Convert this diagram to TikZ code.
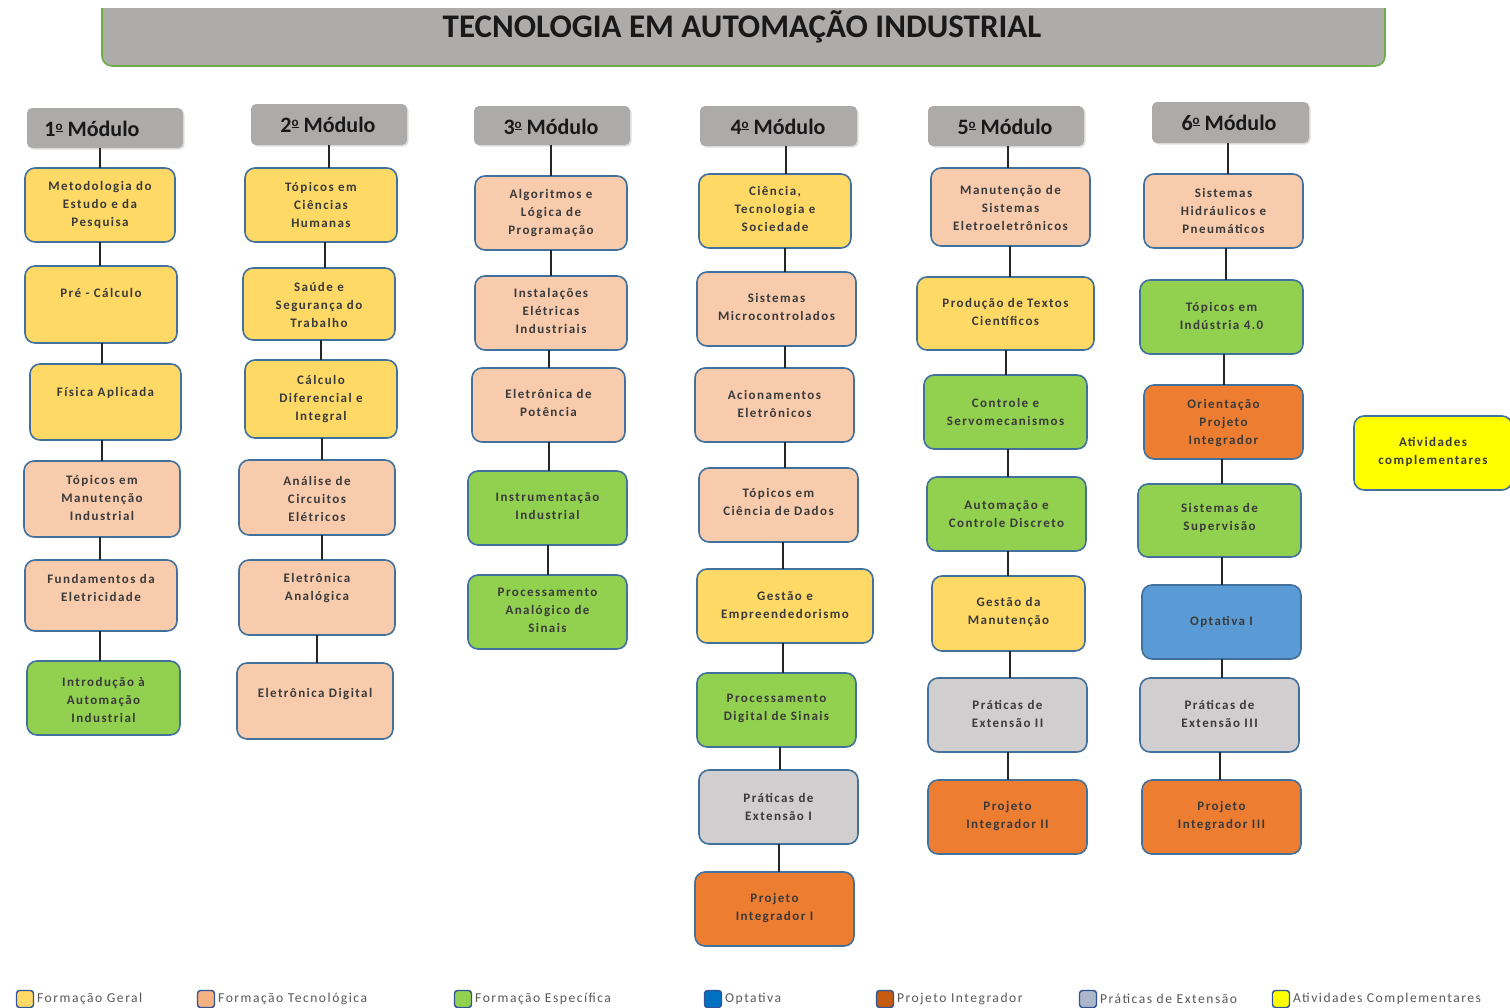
\documentclass[tikz,border=0pt]{standalone}
\usepackage{fontspec}
\setmainfont{Carlito}
\newfontfamily\spaced[LetterSpace=11]{Carlito}
\usetikzlibrary{shadows}
\definecolor{cgen}{HTML}{FFD966}
\definecolor{ctec}{HTML}{F8CBAD}
\definecolor{cesp}{HTML}{92D050}
\definecolor{cpi}{HTML}{ED7D31}
\definecolor{cext}{HTML}{D0CECE}
\definecolor{copt}{HTML}{5B9BD5}
\definecolor{cati}{HTML}{FFFF00}
\definecolor{bord}{HTML}{41719C}
\definecolor{hdrgray}{HTML}{ADAAAA}
\definecolor{titgray}{HTML}{AEABAB}
\definecolor{titbord}{HTML}{70AD47}
\definecolor{txtc}{HTML}{3A3A3A}
\definecolor{legtxt}{HTML}{595959}
\definecolor{legbord}{HTML}{2F5597}
\definecolor{lgtec}{HTML}{F4B183}
\definecolor{lgopt}{HTML}{0070C0}
\definecolor{lgpi}{HTML}{C55A11}
\definecolor{lgext}{HTML}{ADB9CA}
\tikzset{
  cbox/.style={draw=bord, line width=1.6pt, rounded corners=10pt, inner sep=0pt, outer sep=0pt},
  gen/.style={cbox, fill=cgen},
  tec/.style={cbox, fill=ctec},
  esp/.style={cbox, fill=cesp},
  pint/.style={cbox, fill=cpi},
  ext/.style={cbox, fill=cext},
  opt/.style={cbox, fill=copt},
  ati/.style={cbox, fill=cati},
  txt/.style={align=center, font=\spaced\fontsize{13}{18}\selectfont\bfseries, text=txtc, inner sep=0pt},
  conn/.style={draw=black!85, line width=1.5pt},
  hdr/.style={fill=hdrgray, rounded corners=5pt, inner sep=0pt, outer sep=0pt,
    drop shadow={opacity=0.25, shadow xshift=1.5pt, shadow yshift=-1.5pt}},
  hdrtxt/.style={font=\fontsize{22}{26}\selectfont\bfseries, text=black!90, inner sep=0pt},
  legsq/.style={draw=legbord, line width=1.4pt, rounded corners=3pt, inner sep=0pt, minimum width=17pt, minimum height=17pt},
  legtx/.style={anchor=west, font=\spaced\fontsize{13.6}{15}\selectfont, text=legtxt, inner sep=0pt},
}
\newcommand\ordu{\raisebox{0.62ex}{\underline{\fontsize{13}{13}\selectfont\bfseries o}}}
% name, style, x1, y1, x2, y2, text y, text
\newcommand\cbx[8]{%
  \node[#2, minimum width={(#5-#3)*1pt}, minimum height={(#6-#4)*1pt}] (#1) at ({(#3+#5)/2},{(#4+#6)/2}) {};
  \node[txt] (#1t) at ({(#3+#5)/2},#7) {#8};}
% name, x1, y1, x2, y2, tx, ty, text
\newcommand\hdrbox[8]{%
  \node[hdr, minimum width={(#4-#2)*1pt}, minimum height={(#5-#3)*1pt}] (#1) at ({(#2+#4)/2},{(#3+#5)/2}) {};
  \node[hdrtxt] (#1t) at (#6,#7) {#8};}
% name, x, fill, text
\newcommand\legitem[4]{%
  \node[legsq, fill=#3] (#1) at (#2+9,999) {};
  \node[legtx] (#1t) at (#2+21,999) {#4};}
\begin{document}
\begin{tikzpicture}[x=1pt,y=-1pt]
\useasboundingbox (0,0) rectangle (1510,1007);
\clip (0,0) rectangle (1510,1007);
\fill[white] (0,0) rectangle (1510,1007);
% title
\begin{scope}
\clip (0,8) rectangle (1510,100);
\node[draw=titbord, line width=1.6pt, fill=titgray, rounded corners=10pt, minimum width=1283pt, minimum height=86pt, inner sep=0pt] (title) at (743.5,23) {};
\end{scope}
\node[font=\fontsize{33}{36}\selectfont\bfseries, text=black!90, inner sep=0pt] (titlet) at (742,27) {TECNOLOGIA EM AUTOMAÇÃO INDUSTRIAL};
% headers
\hdrbox{h1}{27}{108}{183}{148}{92}{129}{1\ordu\ Módulo}
\hdrbox{h2}{251}{104}{407}{145}{328}{125}{2\ordu\ Módulo}
\hdrbox{h3}{474}{106}{630}{145}{551}{127}{3\ordu\ Módulo}
\hdrbox{h4}{700}{106}{857}{146}{778}{127}{4\ordu\ Módulo}
\hdrbox{h5}{928}{106}{1084}{146}{1005}{127}{5\ordu\ Módulo}
\hdrbox{h6}{1152}{102}{1309}{143}{1229}{123}{6\ordu\ Módulo}
% column 1
\cbx{a1}{gen}{25}{168}{175}{242}{205}{Metodologia do\\Estudo e da\\Pesquisa}
\cbx{b1}{gen}{25}{266}{177}{343}{293}{Pré - Cálculo}
\cbx{c1}{gen}{30}{364}{181}{440}{393}{Física Aplicada}
\cbx{d1}{tec}{24}{461}{180}{537}{498}{Tópicos em\\Manutenção\\Industrial}
\cbx{e1}{tec}{25}{560}{177}{631}{588}{Fundamentos da\\Eletricidade}
\cbx{f1}{esp}{27}{661}{180}{735}{700}{Introdução à\\Automação\\Industrial}
% column 2
\cbx{a2}{gen}{245}{168}{397}{242}{205}{Tópicos em\\Ciências\\Humanas}
\cbx{b2}{gen}{243}{268}{395}{340}{305}{Saúde e\\Segurança do\\Trabalho}
\cbx{c2}{gen}{245}{360}{397}{438}{399}{Cálculo\\Diferencial e\\Integral}
\cbx{d2}{tec}{239}{460}{395}{535}{499}{Análise de\\Circuitos\\Elétricos}
\cbx{e2}{tec}{239}{560}{395}{635}{588}{Eletrônica\\Analógica}
\cbx{f2}{tec}{237}{663}{393}{739}{694}{Eletrônica Digital}
% column 3
\cbx{a3}{tec}{475}{176}{627}{250}{213}{Algoritmos e\\Lógica de\\Programação}
\cbx{b3}{tec}{475}{276}{627}{350}{311}{Instalações\\Elétricas\\Industriais}
\cbx{c3}{tec}{472}{368}{625}{442}{403}{Eletrônica de\\Potência}
\cbx{d3}{esp}{468}{471}{627}{545}{506}{Instrumentação\\Industrial}
\cbx{e3}{esp}{468}{575}{627}{649}{610}{Processamento\\Analógico de\\Sinais}
% column 4
\cbx{a4}{gen}{699}{174}{851}{248}{209}{Ciência,\\Tecnologia e\\Sociedade}
\cbx{b4}{tec}{697}{272}{856}{346}{307}{Sistemas\\Microcontrolados}
\cbx{c4}{tec}{695}{368}{854}{442}{404}{Acionamentos\\Eletrônicos}
\cbx{d4}{tec}{699}{468}{858}{542}{502}{Tópicos em\\Ciência de Dados}
\cbx{e4}{gen}{697}{569}{873}{643}{606}{Gestão e\\Empreendedorismo}
\cbx{f4}{esp}{697}{673}{856}{747}{708}{Processamento\\Digital de Sinais}
\cbx{g4}{ext}{699}{770}{858}{844}{807}{Práticas de\\Extensão I}
\cbx{p4}{pint}{695}{872}{854}{946}{908}{Projeto\\Integrador I}
% column 5
\cbx{a5}{tec}{931}{168}{1090}{246}{208}{Manutenção de\\Sistemas\\Eletroeletrônicos}
\cbx{b5}{gen}{917}{277}{1094}{350}{312}{Produção de Textos\\Científicos}
\cbx{c5}{esp}{924}{375}{1087}{449}{412}{Controle e\\Servomecanismos}
\cbx{d5}{esp}{927}{477}{1086}{551}{514}{Automação e\\Controle Discreto}
\cbx{e5}{gen}{932}{576}{1085}{651}{612}{Gestão da\\Manutenção}
\cbx{f5}{ext}{928}{678}{1087}{752}{714}{Práticas de\\Extensão II}
\cbx{g5}{pint}{928}{780}{1087}{854}{816}{Projeto\\Integrador II}
% column 6
\cbx{a6}{tec}{1144}{174}{1303}{248}{211}{Sistemas\\Hidráulicos e\\Pneumáticos}
\cbx{b6}{esp}{1140}{280}{1303}{354}{316}{Tópicos em\\Indústria 4.0}
\cbx{c6}{pint}{1144}{385}{1303}{459}{423}{Orientação\\Projeto\\Integrador}
\cbx{d6}{esp}{1138}{484}{1301}{557}{518}{Sistemas de\\Supervisão}
\cbx{e6}{opt}{1142}{585}{1301}{659}{622}{Optativa I}
\cbx{f6}{ext}{1140}{678}{1299}{752}{714}{Práticas de\\Extensão III}
\cbx{g6}{pint}{1142}{780}{1301}{854}{816}{Projeto\\Integrador III}
% atividades
\cbx{at}{ati}{1354}{416}{1512}{490}{452}{Atividades\\complementares}
% connectors
\foreach \a/\b/\x in {h1/a1/100, a1/b1/100, b1/c1/102, c1/d1/102, d1/e1/100, e1/f1/100,
  h2/a2/329, a2/b2/325, b2/c2/321, c2/d2/322, d2/e2/322, e2/f2/317,
  h3/a3/551, a3/b3/551, b3/c3/549, c3/d3/549, d3/e3/548,
  h4/a4/786, a4/b4/785, b4/c4/785, c4/d4/785, d4/e4/783, e4/f4/783, f4/g4/780, g4/p4/779,
  h5/a5/1008, a5/b5/1010, b5/c5/1006, c5/d5/1008, d5/e5/1008, e5/f5/1010, f5/g5/1008,
  h6/a6/1228, a6/b6/1226, b6/c6/1224, c6/d6/1222, d6/e6/1222, e6/f6/1222, f6/g6/1220}
  \draw[conn] (\a.south -| \x,0) -- (\b.north -| \x,0);
% legend
\legitem{l1}{16}{cgen}{Formação Geral}
\legitem{l2}{197}{lgtec}{Formação Tecnológica}
\legitem{l3}{454}{cesp}{Formação Específica}
\legitem{l4}{704}{lgopt}{Optativa}
\legitem{l5}{876}{lgpi}{Projeto Integrador}
\legitem{l6}{1079}{lgext}{Práticas de Extensão}
\legitem{l7}{1272}{cati}{Atividades Complementares}
\end{tikzpicture}
\end{document}
